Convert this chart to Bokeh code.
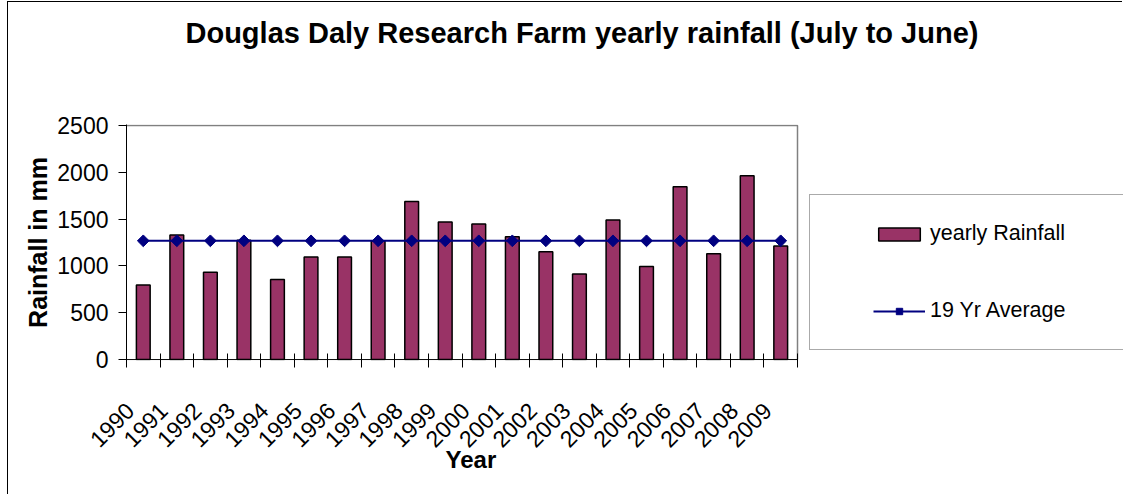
import math
from bokeh.plotting import figure
from bokeh.models import Range1d, FixedTicker, Legend, LegendItem, Title
from bokeh.embed import file_html
from bokeh.resources import INLINE

# ---- data ----
years = [1990, 1991, 1992, 1993, 1994, 1995, 1996, 1997, 1998, 1999,
         2000, 2001, 2002, 2003, 2004, 2005, 2006, 2007, 2008, 2009]
year_labels = ["1990", "1991", "1992", "1993", "1994", "1995", "1996", "1997", "1998", "1999",
               "2000", "2001", "2002", "2003", "2004", "2005", "2006", "2007", "2008", "2009"]
rainfall = [796, 1330, 932, 1273, 854, 1095, 1095, 1265, 1689, 1468,
            1447, 1312, 1152, 914, 1490, 995, 1846, 1131, 1963, 1212]
average_19yr = [1268, 1268, 1268, 1268, 1268, 1268, 1268, 1268, 1268, 1268,
                1268, 1268, 1268, 1268, 1268, 1268, 1268, 1268, 1268, 1268]
y_ticks = [0, 500, 1000, 1500, 2000, 2500]

TITLE = "Douglas Daly Research Farm yearly rainfall (July to June)"
FONT = "Liberation Sans"
BAR_COLOR = "#993366"
AVG_COLOR = "#000080"

# ---- layout (pixels) ----
W, H = 1115, 493
LEFT, TOP, BOTTOM = 118, 122, 135
FRAME_W = W - LEFT              # frame reaches the right edge; the legend lives in it
PLOT_W = 671                    # width of the visible plot area
x0 = years[0] - 0.5
x1 = years[-1] + 0.5
x_end = x0 + (x1 - x0) * FRAME_W / PLOT_W
y_pad = 10

p = figure(width=W, height=H, output_backend="svg", toolbar_location=None,
           x_range=Range1d(x0, x_end),
           y_range=Range1d(y_ticks[0] - y_pad, y_ticks[-1] + y_pad),
           min_border_left=LEFT, min_border_right=0,
           min_border_top=TOP, min_border_bottom=BOTTOM,
           title=None)

try:
    p.styles = {"margin-left": "7px", "margin-top": "1px",
                "border-left": "1px solid black", "border-top": "1px solid black"}
except Exception:
    pass

p.background_fill_color = "white"
p.border_fill_color = "white"
p.outline_line_color = None
p.grid.visible = False

# title (spacer first: it sits next to the plot area, the title above it)
p.add_layout(Title(text=" ", text_font_size="10px", standoff=63), "above")
p.add_layout(Title(text=TITLE, text_font=FONT, text_font_size="29px", text_font_style="bold",
                   text_color="black", align="left", offset=59, standoff=0,
                   vertical_align="bottom"), "above")

# plot-area border (grey top and right edges)
p.line(x=[x0, x1, x1], y=[y_ticks[-1], y_ticks[-1], y_ticks[0]],
       line_color="#808080", line_width=1.5)

# glyphs
bars = p.vbar(x=years, top=rainfall, width=0.41, fill_color=BAR_COLOR,
              line_color="black", line_width=1.5)
avg_line = p.line(x=years, y=average_19yr, line_color=AVG_COLOR, line_width=2)
avg_pts = p.scatter(x=years, y=average_19yr, marker="square", angle=math.pi / 4,
                    size=8.3, fill_color=AVG_COLOR, line_color=AVG_COLOR)

# category axis line
p.line(x=[x0, x1], y=[y_ticks[0], y_ticks[0]], line_color="black", line_width=1)

# x axis: ticks between categories, rotated labels ending at the category centre
boundaries = [y - 0.5 for y in years] + [years[-1] + 0.5]
label_pos = [y - 0.4 for y in years]
xa = p.xaxis[0]
xa.ticker = FixedTicker(ticks=label_pos, minor_ticks=boundaries)
xa.major_label_overrides = {pos: lbl for pos, lbl in zip(label_pos, year_labels)}
xa.axis_line_color = None
xa.major_tick_in = 0
xa.major_tick_out = 0
xa.major_tick_line_color = None
xa.minor_tick_in = 7
xa.minor_tick_out = 7
xa.minor_tick_line_color = "black"
xa.major_label_orientation = math.pi / 4
xa.major_label_standoff = 39
xa.major_label_text_font = FONT
xa.major_label_text_font_size = "23px"
xa.major_label_text_color = "black"

year_kw = dict(text="Year", text_font=FONT, text_font_size="24px", text_font_style="bold",
               text_color="black", align="left", offset=319, vertical_align="bottom")
try:
    year_title = Title(standoff=-27, **year_kw)
except Exception:
    year_title = Title(standoff=0, **year_kw)
p.add_layout(year_title, "below")

ya = p.yaxis[0]
ya.ticker = FixedTicker(ticks=y_ticks)
ya.axis_line_color = "black"
ya.axis_line_width = 1
ya.major_tick_line_color = "black"
ya.major_tick_in = 0
ya.major_tick_out = 8
ya.minor_tick_line_color = None
ya.major_label_standoff = 10
ya.major_label_text_font = FONT
ya.major_label_text_font_size = "23px"
ya.major_label_text_color = "black"
ya.axis_label = "Rainfall in mm"
ya.axis_label_standoff = 2
ya.axis_label_text_font = FONT
ya.axis_label_text_font_size = "25px"
ya.axis_label_text_font_style = "bold"
ya.axis_label_text_color = "black"

# legend (its border is the legend box), placed right of the plot area
legend = Legend(items=[LegendItem(label="yearly Rainfall", renderers=[bars]),
                       LegendItem(label="19 Yr Average", renderers=[avg_line, avg_pts])],
                location=(PLOT_W + 12, 10), padding=26, spacing=52, margin=0,
                glyph_width=52, glyph_height=16, label_height=25, label_standoff=5,
                label_text_font=FONT, label_text_font_size="21.5px", label_text_color="black",
                border_line_color="#555555", border_line_width=1.5,
                background_fill_color="white", background_fill_alpha=1)
pad_ok = False
for pad in (dict(left=63, right=26, top=26, bottom=26), (26, 26, 26, 63)):
    try:
        legend.padding = pad
        pad_ok = True
        break
    except Exception:
        pass
legend.label_width = 185 if pad_ok else 222
p.add_layout(legend)

open("out.html", "w").write(file_html(p, INLINE))
